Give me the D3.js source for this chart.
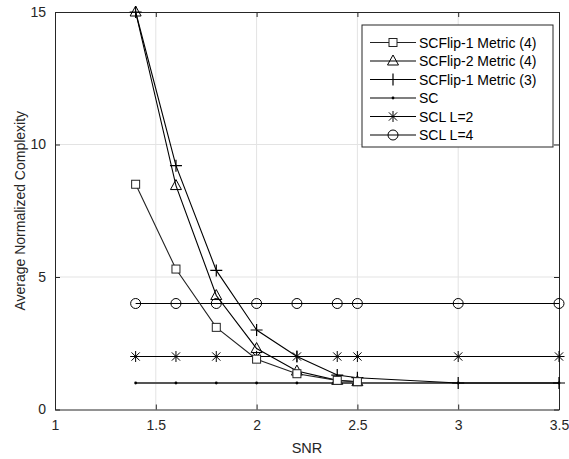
<!DOCTYPE html>
<html>
<head>
<meta charset="utf-8">
<script src="https://cdn.jsdelivr.net/npm/d3@7"></script>
<style>
  body { margin: 0; background: #fff; }
  text { font-family: "Liberation Sans", Arial, sans-serif; }
</style>
</head>
<body>
<div id="chart"></div>
<script>
// data
var snrFlip = [1.4, 1.6, 1.8, 2.0, 2.2, 2.4, 2.5];
var snrAll = [1.4, 1.6, 1.8, 2.0, 2.2, 2.4, 2.5, 3.0, 3.5];
var flip1m4 = [8.5, 5.3, 3.1, 1.9, 1.35, 1.1, 1.05];
var flip2m4 = [15, 8.45, 4.3, 2.3, 1.45, 1.1, 1.05];
var flip1m3 = [15, 9.2, 5.25, 3.0, 2.0, 1.3, 1.2, 1.0, 1.0];
var sc = [1, 1, 1, 1, 1, 1, 1, 1, 1];
var sclL2 = [2, 2, 2, 2, 2, 2, 2, 2, 2];
var sclL4 = [4, 4, 4, 4, 4, 4, 4, 4, 4];
var xTicks = [1, 1.5, 2, 2.5, 3, 3.5];
var yTicks = [0, 5, 10, 15];

var series = [
    { name: "SCFlip-1 Metric (4)", x: snrFlip, y: flip1m4, marker: "square", color: "#222" },
    { name: "SCFlip-2 Metric (4)", x: snrFlip, y: flip2m4, marker: "triangle", color: "#000" },
    { name: "SCFlip-1 Metric (3)", x: snrAll, y: flip1m3, marker: "plus", color: "#000" },
    { name: "SC", x: snrAll, y: sc, marker: "dot", color: "#555" },
    { name: "SCL L=2", x: snrAll, y: sclL2, marker: "star", color: "#000" },
    { name: "SCL L=4", x: snrAll, y: sclL4, marker: "circle", color: "#000" }
];

var margin = { top: 12, right: 10, bottom: 50, left: 55 },
    width_all = 569, height_all = 459,
    width = 559 - margin.left,
    height = 409.5 - margin.top;

var svg = d3.select("#chart")
    .append("svg")
    .attr("width", width_all)
    .attr("height", height_all)
    .append("g")
    .attr("transform", "translate(" + margin.left + "," + margin.top + ")");

var x = d3.scaleLinear().domain([1, 3.5]).range([0, width]);
var y = d3.scaleLinear().domain([0, 15]).range([height, 0]);

// grid
svg.append("g").selectAll("line").data(xTicks.slice(1, -1)).enter().append("line")
    .attr("x1", d => x(d)).attr("x2", d => x(d)).attr("y1", 0).attr("y2", height)
    .attr("stroke", "#e3e3e3").attr("stroke-width", 1);
svg.append("g").selectAll("line").data(yTicks.slice(1, -1)).enter().append("line")
    .attr("y1", d => y(d)).attr("y2", d => y(d)).attr("x1", 0).attr("x2", width)
    .attr("stroke", "#e3e3e3").attr("stroke-width", 1);

// axes
var xAxis = svg.append("g")
    .attr("transform", "translate(0," + height + ")")
    .call(d3.axisBottom(x).tickValues(xTicks).tickSizeInner(-5).tickSizeOuter(0).tickPadding(11).tickFormat(d3.format("")));
var xTop = svg.append("g")
    .call(d3.axisTop(x).tickValues(xTicks).tickSizeInner(-5).tickSizeOuter(0).tickFormat(""));
var yAxis = svg.append("g")
    .call(d3.axisLeft(y).tickValues(yTicks).tickSizeInner(-5).tickSizeOuter(0).tickPadding(9));
var yRight = svg.append("g")
    .attr("transform", "translate(" + width + ",0)")
    .call(d3.axisRight(y).tickValues(yTicks).tickSizeInner(-5).tickSizeOuter(0).tickFormat(""));

[xAxis, xTop, yAxis, yRight].forEach(function(a) {
    a.select(".domain").attr("stroke", "#262626");
    a.selectAll(".tick line").attr("stroke", "#262626");
    a.selectAll("text").attr("font-size", "14px").attr("fill", "#262626")
        .style("font-family", "Liberation Sans, Arial, sans-serif");
});

// axis labels
svg.append("text")
    .attr("text-anchor", "middle")
    .attr("font-size", "14.5px")
    .attr("fill", "#262626")
    .attr("x", x(2.25))
    .attr("y", height + 43)
    .text("SNR");

svg.append("text")
    .attr("transform", "rotate(-90)")
    .attr("x", -(y(7.5)))
    .attr("y", -30)
    .attr("text-anchor", "middle")
    .attr("font-size", "14px")
    .attr("fill", "#262626")
    .text("Average Normalized Complexity");

// markers
function drawMarker(g, type, cx, cy, color) {
    if (type == "square") {
        g.append("rect").attr("x", cx - 4).attr("y", cy - 4).attr("width", 8).attr("height", 8)
            .attr("fill", "#fff").attr("stroke", color).attr("stroke-width", 1);
    } else if (type == "triangle") {
        g.append("path").attr("d", "M" + cx + "," + (cy - 6) + "L" + (cx + 5.5) + "," + (cy + 4) + "L" + (cx - 5.5) + "," + (cy + 4) + "Z")
            .attr("fill", "none").attr("stroke", color).attr("stroke-width", 1);
    } else if (type == "plus") {
        g.append("path").attr("d", "M" + (cx - 6) + "," + cy + "H" + (cx + 6) + "M" + cx + "," + (cy - 6) + "V" + (cy + 6))
            .attr("stroke", color).attr("stroke-width", 1.2);
    } else if (type == "dot") {
        g.append("circle").attr("cx", cx).attr("cy", cy).attr("r", 1.4).attr("fill", "#000");
    } else if (type == "star") {
        var r = 5.5, d = r * 0.75;
        g.append("path").attr("d", "M" + (cx - r) + "," + cy + "H" + (cx + r) + "M" + cx + "," + (cy - r) + "V" + (cy + r) +
            "M" + (cx - d) + "," + (cy - d) + "L" + (cx + d) + "," + (cy + d) + "M" + (cx - d) + "," + (cy + d) + "L" + (cx + d) + "," + (cy - d))
            .attr("stroke", color).attr("stroke-width", 1);
    } else if (type == "circle") {
        g.append("circle").attr("cx", cx).attr("cy", cy).attr("r", 5)
            .attr("fill", "none").attr("stroke", color).attr("stroke-width", 1);
    }
}

var line = d3.line().x(d => x(d[0])).y(d => y(d[1]));

// draw lines in reverse so the flip curves end on top
series.slice().reverse().forEach(function(s) {
    var pts = s.x.map((v, i) => [v, s.y[i]]);
    var g = svg.append("g");
    g.append("path").datum(pts)
        .attr("d", line)
        .attr("fill", "none")
        .attr("stroke", s.color)
        .attr("stroke-width", s.marker == "dot" ? 1.8 : 1.1);
    pts.forEach(function(p) { drawMarker(g, s.marker, x(p[0]), y(p[1]), s.color); });
});

// legend
var lg = svg.append("g").attr("transform", "translate(" + (362 - margin.left) + "," + (25 - margin.top) + ")");
lg.append("rect").attr("width", 191).attr("height", 122).attr("fill", "#fff").attr("stroke", "#262626").attr("stroke-width", 1);
series.forEach(function(s, i) {
    var yy = 17.5 + i * 18.5;
    lg.append("line").attr("x1", 8).attr("x2", 54).attr("y1", yy).attr("y2", yy)
        .attr("stroke", s.color).attr("stroke-width", s.marker == "dot" ? 1.5 : 1.1);
    drawMarker(lg, s.marker, 31, yy, s.color);
    lg.append("text").attr("x", 57).attr("y", yy + 5)
        .attr("font-size", "14px").attr("fill", "#000").text(s.name);
});
</script>
</body>
</html>
